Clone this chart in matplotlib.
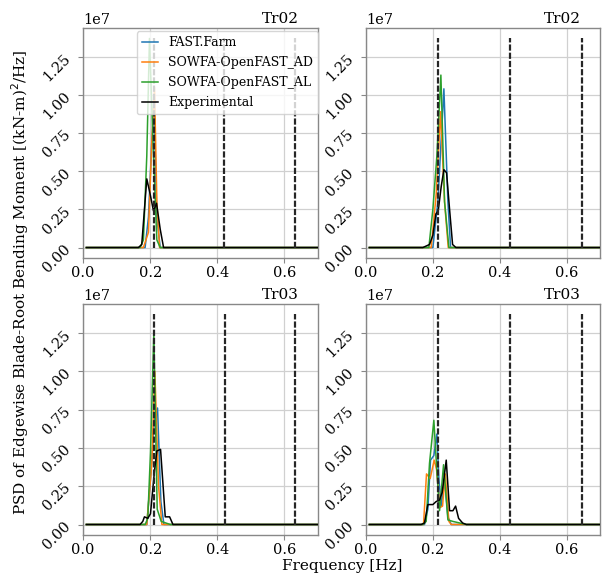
import matplotlib
matplotlib.use("Agg")
import matplotlib.pyplot as plt
from matplotlib.ticker import MultipleLocator

plt.rcParams['font.family'] = ['DejaVu Serif']

# ---------------- data (PSD in units of 1e7) ----------------
labels = ["FAST.Farm", "SOWFA-OpenFAST_AD", "SOWFA-OpenFAST_AL", "Experimental"]
colors = ["#1f77b4", "#ff7f0e", "#2ca02c", "black"]
titles = ["Tr02", "Tr02", "Tr03", "Tr03"]

# panel 0 : top-left
p0_ff_f = [0.01, 0.185, 0.195, 0.205, 0.212, 0.220, 0.230, 0.70]
p0_ff_v = [0, 0, 0.20, 0.70, 0.90, 0.20, 0, 0]
p0_ad_f = [0.01, 0.180, 0.195, 0.205, 0.213, 0.220, 0.228, 0.70]
p0_ad_v = [0, 0, 0.10, 0.70, 1.05, 0.30, 0, 0]
p0_al_f = [0.01, 0.170, 0.180, 0.190, 0.198, 0.210, 0.220, 0.230, 0.70]
p0_al_v = [0, 0, 0.05, 0.60, 1.37, 0.60, 0.05, 0, 0]
p0_ex_f = [0.01, 0.165, 0.175, 0.190, 0.200, 0.210, 0.219, 0.230, 0.240, 0.70]
p0_ex_v = [0, 0, 0.02, 0.45, 0.35, 0.24, 0.29, 0.12, 0, 0]

# panel 1 : top-right
p1_ff_f = [0.01, 0.200, 0.215, 0.233, 0.245, 0.253, 0.70]
p1_ff_v = [0, 0, 0.30, 1.04, 0.30, 0, 0]
p1_ad_f = [0.01, 0.195, 0.210, 0.223, 0.235, 0.246, 0.70]
p1_ad_v = [0, 0, 0.35, 0.89, 0.30, 0, 0]
p1_al_f = [0.01, 0.188, 0.200, 0.212, 0.224, 0.235, 0.248, 0.70]
p1_al_v = [0, 0, 0.25, 0.60, 1.13, 0.30, 0, 0]
p1_ex_f = [0.01, 0.170, 0.190, 0.200, 0.209, 0.216, 0.225, 0.233, 0.241, 0.250, 0.259, 0.269, 0.70]
p1_ex_v = [0, 0, 0.02, 0.08, 0.22, 0.24, 0.40, 0.51, 0.49, 0.25, 0.02, 0, 0]

# panel 2 : bottom-left
p2_ff_f = [0.01, 0.190, 0.203, 0.213, 0.222, 0.232, 0.241, 0.70]
p2_ff_v = [0, 0, 0.35, 0.70, 0.76, 0.15, 0, 0]
p2_ad_f = [0.01, 0.190, 0.205, 0.214, 0.225, 0.235, 0.70]
p2_ad_v = [0, 0, 0.40, 1.00, 0.25, 0, 0]
p2_al_f = [0.01, 0.185, 0.193, 0.201, 0.211, 0.221, 0.233, 0.260, 0.70]
p2_al_v = [0, 0, 0.04, 0.47, 1.25, 0.10, 0.02, 0, 0]
p2_ex_f = [0.01, 0.170, 0.178, 0.183, 0.193, 0.201, 0.213, 0.220, 0.231, 0.245, 0.258, 0.268, 0.70]
p2_ex_v = [0, 0, 0.02, 0.05, 0.04, 0.07, 0.35, 0.48, 0.49, 0.05, 0.05, 0, 0]

# panel 3 : bottom-right
p3_ff_f = [0.01, 0.175, 0.185, 0.193, 0.203, 0.212, 0.218, 0.225, 0.235, 0.245, 0.255, 0.70]
p3_ff_v = [0, 0, 0.10, 0.42, 0.45, 0.59, 0.30, 0.12, 0.30, 0.05, 0, 0]
p3_ad_f = [0.01, 0.172, 0.181, 0.192, 0.204, 0.211, 0.221, 0.229, 0.237, 0.248, 0.255, 0.70]
p3_ad_v = [0, 0, 0.33, 0.30, 0.42, 0.36, 0.11, 0.12, 0.33, 0.02, 0, 0]
p3_al_f = [0.01, 0.170, 0.180, 0.190, 0.203, 0.212, 0.220, 0.232, 0.245, 0.260, 0.300, 0.70]
p3_al_v = [0, 0, 0.02, 0.40, 0.68, 0.35, 0.09, 0.39, 0.03, 0.02, 0, 0]
p3_ex_f = [0.01, 0.165, 0.175, 0.185, 0.200, 0.210, 0.220, 0.228, 0.240, 0.250, 0.260, 0.268, 0.277, 0.289, 0.300, 0.70]
p3_ex_v = [0, 0, 0.01, 0.13, 0.13, 0.15, 0.16, 0.21, 0.42, 0.09, 0.09, 0.12, 0.04, 0.01, 0, 0]

# rotor harmonic frequencies (1P, 2P, 3P) per panel
harm0 = [0.210, 0.420, 0.632]
harm1 = [0.215, 0.430, 0.645]
harm2 = [0.212, 0.424, 0.632]
harm3 = [0.215, 0.430, 0.645]
harm_top = 1.37  # height of harmonic marker lines (1e7)

scale = 1e7

panels = [
    ([(p0_ff_f, p0_ff_v), (p0_ad_f, p0_ad_v), (p0_al_f, p0_al_v), (p0_ex_f, p0_ex_v)], harm0),
    ([(p1_ff_f, p1_ff_v), (p1_ad_f, p1_ad_v), (p1_al_f, p1_al_v), (p1_ex_f, p1_ex_v)], harm1),
    ([(p2_ff_f, p2_ff_v), (p2_ad_f, p2_ad_v), (p2_al_f, p2_al_v), (p2_ex_f, p2_ex_v)], harm2),
    ([(p3_ff_f, p3_ff_v), (p3_ad_f, p3_ad_v), (p3_al_f, p3_al_v), (p3_ex_f, p3_ex_v)], harm3),
]

# ---------------- figure ----------------
fig = plt.figure(figsize=(6.03, 5.76), dpi=100)
W, H = 603.0, 576.0
rects = [
    (83 / W, 1 - 258 / H, 235 / W, 230 / H),
    (366 / W, 1 - 258 / H, 234 / W, 230 / H),
    (83 / W, 1 - 535 / H, 235 / W, 231 / H),
    (366 / W, 1 - 535 / H, 234 / W, 231 / H),
]

axes = []
for i, (series, harm) in enumerate(panels):
    ax = fig.add_axes(rects[i])
    axes.append(ax)
    ax.grid(True, color="#d0d0d0", linewidth=0.9, zorder=0)
    ax.set_axisbelow(True)
    for k, (f, v) in enumerate(series):
        ax.plot(f, [x * scale for x in v], color=colors[k], lw=1.1,
                label=labels[k], zorder=3 if k < 3 else 4)
    ax.vlines(harm, 0, harm_top * scale, colors="#262626", linewidth=1.6,
              linestyles=(0, (2.8, 0.9)), zorder=5)
    ax.set_xlim(0.0, 0.7)
    ax.set_ylim(-0.0685 * scale, 1.4385 * scale)
    ax.xaxis.set_major_locator(MultipleLocator(0.2))
    ax.yaxis.set_major_locator(MultipleLocator(0.25 * scale))
    ax.tick_params(axis="both", labelsize=10.5, color="#888888", length=3.5, width=0.8)
    ax.tick_params(axis="x", pad=2.5)
    for s in ax.spines.values():
        s.set_color("#888888")
        s.set_linewidth(1.0)
    for lab in ax.get_yticklabels():
        lab.set_rotation(45)
    ax.yaxis.get_offset_text().set_fontsize(10.5)
    ax.text(0.84, 1.008, titles[i], transform=ax.transAxes, ha="center",
            va="bottom", fontsize=11)

leg = axes[0].legend(loc="upper right", bbox_to_anchor=(1.0, 0.985),
                     fontsize=9, handlelength=1.3, borderaxespad=0.0,
                     labelspacing=0.55, framealpha=0.8)

fig.text(342 / W, 1 - 566 / H, "Frequency [Hz]", ha="center", va="center", fontsize=11)
fig.text(20 / W, 1 - 282 / H, "PSD of Edgewise Blade-Root Bending Moment [(kN-m)$^2$/Hz]",
         rotation=90, ha="center", va="center", fontsize=11)

fig.savefig("out.png", dpi=100)
